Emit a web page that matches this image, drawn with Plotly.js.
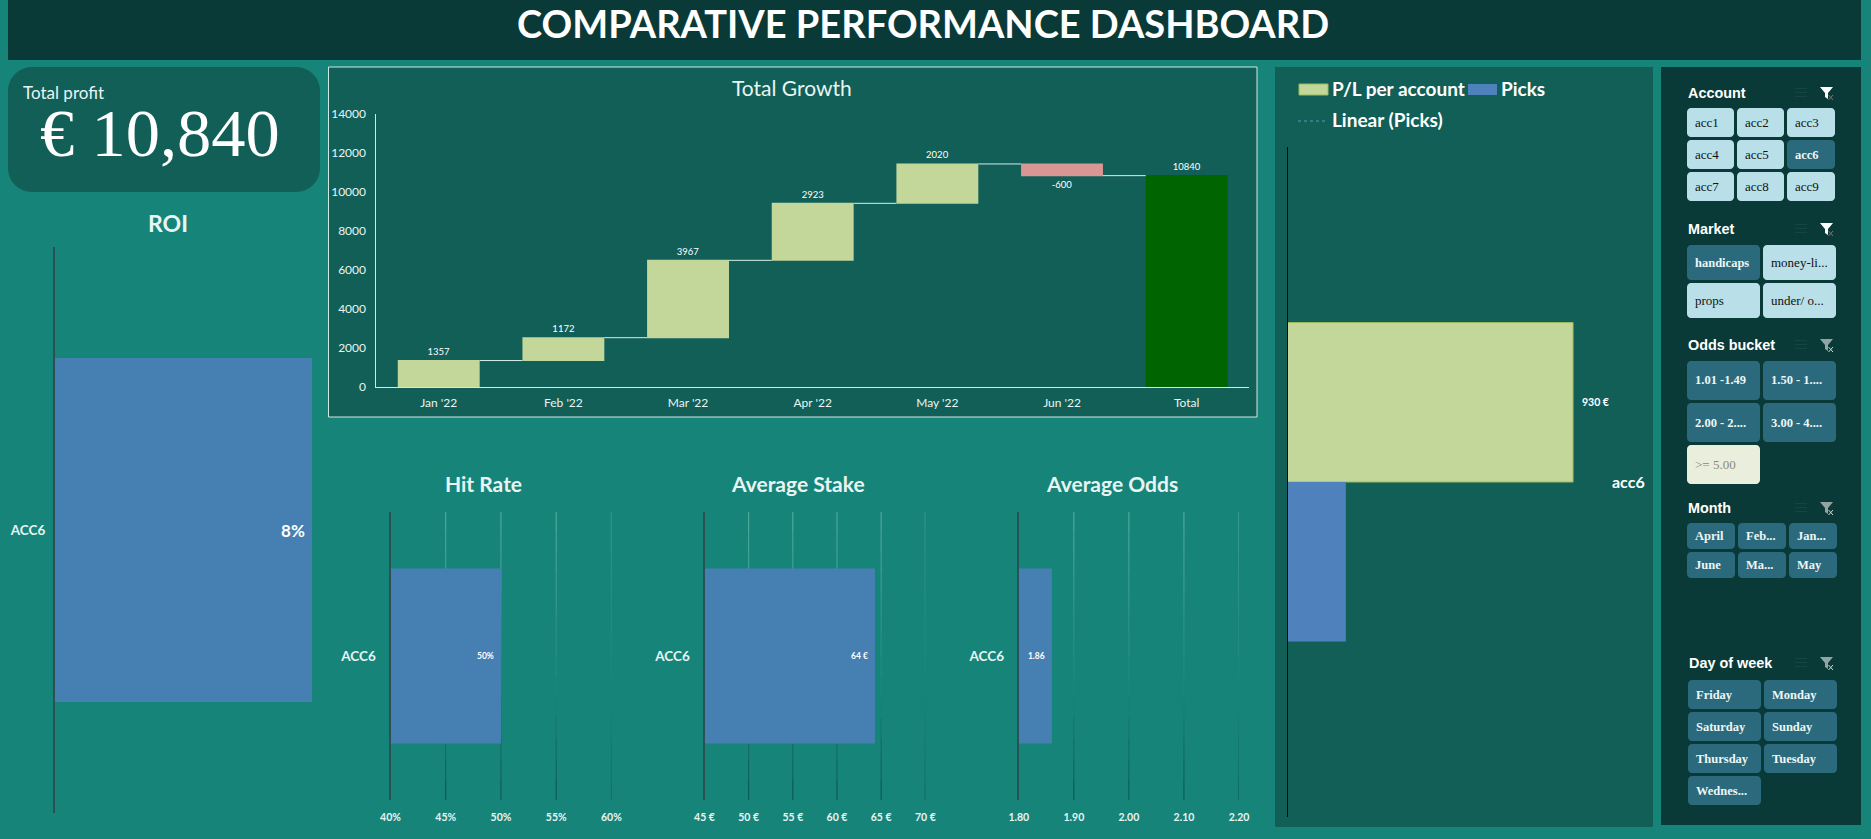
<!DOCTYPE html>
<html>
<head>
<meta charset="utf-8">
<script src="https://cdn.plot.ly/plotly-3.0.1.min.js"></script>
<style>html,body{margin:0;padding:0;background:#17847a;overflow:hidden}#chart{width:1871px;height:839px}</style>
</head>
<body>
<div id="chart"></div>
<script>
// ---- data ----
const months = ["Jan '22", "Feb '22", "Mar '22", "Apr '22", "May '22", "Jun '22", "Total"];
const growth = [1357, 1172, 3967, 2923, 2020, -600, 10840];
const growthMeasure = ["relative", "relative", "relative", "relative", "relative", "relative", "absolute"];
const growthTicks = [0, 2000, 4000, 6000, 8000, 10000, 12000, 14000];
const account = ["ACC6"];
const roi = [0.08];
const hitRate = [0.50];
const hitTicks = [0.40, 0.45, 0.50, 0.55, 0.60];
const avgStake = [64.3];
const stakeTicks = [45, 50, 55, 60, 65, 70];
const avgOdds = [1.86];
const oddsTicks = [1.80, 1.90, 2.00, 2.10, 2.20];
const plCategory = ["acc6"];
const plValues = [930];
const picksValues = [190];

const slicers = [
  {title: "Account", tx: 1687, ty: 93, icon: "#ffffff", xs: [[1687,1734],[1737,1784],[1787,1835]], ys: [[108,137],[140,169],[172,201]],
   items: [["acc1",0],["acc2",0],["acc3",0],["acc4",0],["acc5",0],["acc6",1],["acc7",0],["acc8",0],["acc9",0]]},
  {title: "Market", tx: 1687, ty: 229, icon: "#ffffff", xs: [[1687,1760],[1763,1836]], ys: [[245,280],[283,318]],
   items: [["handicaps",1],["money-li...",0],["props",0],["under/ o...",0]]},
  {title: "Odds bucket", tx: 1687, ty: 345, icon: "#93a5a2", xs: [[1687,1760],[1763,1836]], ys: [[361,400],[403,442],[445,484]],
   items: [["1.01 -1.49",1],["1.50 - 1....",1],["2.00 - 2....",1],["3.00 - 4....",1],[">= 5.00",2]]},
  {title: "Month", tx: 1687, ty: 508, icon: "#93a5a2", xs: [[1687,1735],[1738,1786],[1789,1837]], ys: [[523,549],[552,578]],
   items: [["April",1],["Feb...",1],["Jan...",1],["June",1],["Ma...",1],["May",1]]},
  {title: "Day of week", tx: 1688, ty: 663, icon: "#93a5a2", xs: [[1688,1761],[1764,1837]], ys: [[680,709],[712,741],[744,773],[776,805]],
   items: [["Friday",1],["Monday",1],["Saturday",1],["Sunday",1],["Thursday",1],["Tuesday",1],["Wednes...",1]]}
];

// ---- helpers ----
const W = 1871, H = 839;
const X = p => p / W, Y = p => 1 - p / H;
const BG = "#17847a", DARK = "#0a3a38", PANEL = "#125f58", WHITE = "#ffffff", SOFT = "#e8f5f2";
const BLUE = "#4680b3";
const SANS = "Lato, Carlito, sans-serif";
const shapes = [], annotations = [];

function rect(x0, y0, x1, y1, fill, line) {
  shapes.push({type: "rect", xref: "paper", yref: "paper", x0: X(x0), x1: X(x1), y0: Y(y1), y1: Y(y0),
    fillcolor: fill, line: line ? {color: line, width: 1} : {width: 0}, layer: "below"});
}
function round(x0, y0, x1, y1, r, fill) {
  const k = r * 0.45;
  const pt = (x, y) => X(x) + "," + Y(y);
  const path = "M" + pt(x0 + r, y0) + "L" + pt(x1 - r, y0) + "C" + pt(x1 - k, y0) + " " + pt(x1, y0 + k) + " " + pt(x1, y0 + r) +
    "L" + pt(x1, y1 - r) + "C" + pt(x1, y1 - k) + " " + pt(x1 - k, y1) + " " + pt(x1 - r, y1) +
    "L" + pt(x0 + r, y1) + "C" + pt(x0 + k, y1) + " " + pt(x0, y1 - k) + " " + pt(x0, y1 - r) +
    "L" + pt(x0, y0 + r) + "C" + pt(x0, y0 + k) + " " + pt(x0 + k, y0) + " " + pt(x0 + r, y0) + "Z";
  shapes.push({type: "path", xref: "paper", yref: "paper", path, fillcolor: fill, line: {width: 0}, layer: "below"});
}
function poly(points, fill) {
  const path = "M" + points.map(p => X(p[0]) + "," + Y(p[1])).join("L") + "Z";
  shapes.push({type: "path", xref: "paper", yref: "paper", path, fillcolor: fill, line: {width: 0}, layer: "above"});
}
function seg(x0, y0, x1, y1, color, width, dash) {
  shapes.push({type: "line", xref: "paper", yref: "paper", x0: X(x0), x1: X(x1), y0: Y(y0), y1: Y(y1),
    line: {color, width, dash: dash || "solid"}, layer: "above"});
}
function label(text, x, y, size, opt) {
  opt = opt || {};
  annotations.push({text, xref: "paper", yref: "paper", x: X(x), y: Y(y), showarrow: false,
    xanchor: opt.anchor || "center", yanchor: "middle", align: "left", borderpad: 0,
    font: {family: opt.family || SANS, size, color: opt.color || WHITE, weight: opt.weight || 400}});
}
function mix(a, b, t) {
  const ch = (c, i) => parseInt(c.substr(1 + 2 * i, 2), 16);
  return "rgb(" + [0, 1, 2].map(i => Math.round(ch(a, i) + (ch(b, i) - ch(a, i)) * t)).join(",") + ")";
}
// fading gridlines: light at the top, through the background colour, dark at the bottom
function grid(axisId, ticks) {
  const n = 14;
  ticks.slice(1).forEach(t => {
    for (let i = 0; i < n; i++) {
      const f = (i + 0.5) / n;
      const color = f > 0.35 ? mix(BG, "#5cb0a4", (f - 0.35) / 0.65) : mix("#0c4f4b", BG, f / 0.35);
      shapes.push({type: "line", xref: axisId, yref: axisId.replace("x", "y") + " domain", x0: t, x1: t,
        y0: i / n, y1: (i + 1) / n, line: {color, width: 1}, layer: "below"});
    }
  });
}

// ---- frame ----
rect(8, 0, 1861, 60, DARK);
round(8, 67, 320, 192, 24, PANEL);
rect(328.5, 67, 1257, 417, PANEL, "#cfe9e3");
rect(1275, 67, 1653, 827, PANEL);
rect(1661, 67, 1861, 825, DARK);

label("COMPARATIVE PERFORMANCE DASHBOARD", 923, 22.8, 38, {weight: 700});
label("Total profit", 22, 92, 17, {anchor: "left", color: SOFT});
label("€ 10,840", 160, 133, 68.5, {family: "Liberation Serif, serif"});
label("ROI", 168, 223, 23, {weight: 700, color: SOFT});
label("Total Growth", 791.5, 87, 21, {color: SOFT});
label("Hit Rate", 483.5, 483, 21, {weight: 700, color: SOFT});
label("Average Stake", 797.5, 483, 21, {weight: 700, color: SOFT});
label("Average Odds", 1112, 483, 21, {weight: 700, color: SOFT});

// P/L legend
rect(1299, 84, 1328, 95, "#c4d79b", "#9bbb59");
label("P/L per account", 1331, 88, 19, {anchor: "left", weight: 700});
rect(1468, 84, 1497, 95, "#4f81bd");
label("Picks", 1500, 88, 19, {anchor: "left", weight: 700});
seg(1298, 121, 1328, 121, "#4f9fb5", 1, "dot");
label("Linear (Picks)", 1331, 119, 19, {anchor: "left", weight: 700});
label(plCategory[0], 1628, 481, 16, {weight: 700});
annotations.push({text: plValues[0] + " €", xref: "x6", yref: "paper", x: plValues[0], y: Y(402), xanchor: "left", yanchor: "middle",
  xshift: 7, showarrow: false, font: {family: SANS, size: 10.5, color: WHITE, weight: 700}});

// ---- slicers ----
slicers.forEach(s => {
  label(s.title, s.tx, s.ty, 14.4, {anchor: "left", family: "Liberation Sans, sans-serif", weight: 700});
  const ix = 1820, iy = s.ty - 6;
  poly([[ix, iy], [ix + 13, iy], [ix + 8, iy + 6], [ix + 8, iy + 12], [ix + 5, iy + 10], [ix + 5, iy + 6]], s.icon);
  seg(ix + 8.5, iy + 8, ix + 13, iy + 13, s.icon === WHITE ? "#b85c5c" : "#cdd8d6", 1);
  seg(ix + 13, iy + 8, ix + 8.5, iy + 13, s.icon === WHITE ? "#b85c5c" : "#cdd8d6", 1);
  [0, 4, 8].forEach(d => seg(1795, iy + 1.5 + d, 1807, iy + 1.5 + d, "#174543", 1));
  s.items.forEach((it, i) => {
    const col = i % s.xs.length, row = Math.floor(i / s.xs.length);
    const [x0, x1] = s.xs[col], [y0, y1] = s.ys[row];
    const fill = it[1] === 0 ? "#b9dfe8" : it[1] === 1 ? "#2a6a7c" : "#e9efdc";
    round(x0, y0, x1, y1, 4, fill);
    label(it[0], x0 + 7, (y0 + y1) / 2, it[1] === 1 ? 12.5 : 13, {
      anchor: "left", family: "Liberation Serif, serif", weight: it[1] === 1 ? 700 : 400,
      color: it[1] === 0 ? "#111111" : it[1] === 1 ? "#eef6f6" : "#8a8a80"});
  });
});

// ---- gridlines ----
grid("x3", hitTicks);
grid("x4", stakeTicks);
grid("x5", oddsTicks);

// ---- traces ----
const dark = "#2b5157";
const pad = n => "\u00a0".repeat(n);
function kpiBar(xa, ya, values, fmt, size) {
  return {type: "bar", orientation: "h", x: values, y: account, xaxis: xa, yaxis: ya, showlegend: false,
    marker: {color: BLUE}, texttemplate: fmt, textposition: "inside", insidetextanchor: "end",
    textangle: 0, constraintext: "none", cliponaxis: false,
    textfont: {family: SANS, size, color: WHITE, weight: 700}, hoverinfo: "skip"};
}
const traces = [
  {type: "waterfall", x: months, y: growth, measure: growthMeasure, xaxis: "x", yaxis: "y", name: "Total Growth", showlegend: false,
   text: growth.map(String), textposition: "outside", cliponaxis: false,
   textfont: {family: SANS, size: 9.5, color: WHITE},
   increasing: {marker: {color: "#c4d79b"}}, decreasing: {marker: {color: "#da9694"}}, totals: {marker: {color: "#006400"}},
   connector: {mode: "end", line: {color: "#d5eee8", width: 1}}},
  kpiBar("x2", "y2", roi, "%{x:.0%}" + pad(1), 17),
  kpiBar("x3", "y3", hitRate, "%{x:.0%}" + pad(2), 8.5),
  kpiBar("x4", "y4", avgStake, "%{x:.0f} €" + pad(2), 8.5),
  kpiBar("x5", "y5", avgOdds, "%{x:.2f}" + pad(2), 8.5),
  {type: "bar", orientation: "h", name: "P/L per account", x: plValues, y: plCategory, xaxis: "x6", yaxis: "y6", showlegend: false,
   width: 0.238, offset: 0, marker: {color: "#c4d79b", line: {color: "#9bbb59", width: 1}}, textposition: "none"},
  {type: "bar", orientation: "h", name: "Picks", x: picksValues, y: plCategory, xaxis: "x6", yaxis: "y6", showlegend: false,
   width: 0.238, offset: -0.238, marker: {color: "#4f81bd"}, textposition: "none"}
];

// ---- axes ----
const dx = (a, b) => [X(a), X(b)], dy = (top, bottom) => [Y(bottom), Y(top)];
function catAxis(anchor, domain, standoff) {
  return {domain, anchor, type: "category", showgrid: false, showline: true, linecolor: dark, linewidth: 2, zeroline: false,
    range: [-0.5, 0.5], ticks: "outside", ticklen: standoff, tickcolor: "rgba(0,0,0,0)",
    tickfont: {family: SANS, size: 13.5, color: SOFT, weight: 700}};
}
function valAxis(anchor, domain, range, ticks, opt) {
  return Object.assign({domain, anchor, range, tickmode: "array", tickvals: ticks, showgrid: false, zeroline: false, showline: false,
    ticks: "outside", ticklen: 7, tickcolor: "rgba(0,0,0,0)",
    tickfont: {family: SANS, size: 10.5, color: SOFT, weight: 700}}, opt || {});
}
const layout = {
  width: W, height: H, margin: {l: 0, r: 0, t: 0, b: 0}, autosize: false,
  paper_bgcolor: BG, plot_bgcolor: "rgba(0,0,0,0)", showlegend: false,
  bargap: 0.392, waterfallgap: 0.343, barmode: "overlay",
  shapes, annotations,
  xaxis: {domain: dx(376.4, 1249), anchor: "y", type: "category", showgrid: false, zeroline: false, showline: true,
    linecolor: "#cfe9e3", linewidth: 1, ticks: "outside", ticklen: 5, tickcolor: "rgba(0,0,0,0)",
    tickfont: {family: SANS, size: 12, color: SOFT}},
  yaxis: {domain: dy(114, 387), anchor: "x", range: [0, 14000], tickmode: "array", tickvals: growthTicks, tickformat: "d",
    showgrid: false, zeroline: false, showline: true,
    linecolor: "#cfe9e3", linewidth: 1, ticks: "outside", ticklen: 7, tickcolor: "rgba(0,0,0,0)",
    tickfont: {family: SANS, size: 12, color: SOFT}},
  xaxis2: {domain: dx(55, 312), anchor: "y2", range: [0, 0.08], visible: false},
  yaxis2: catAxis("x2", dy(247, 813), 5),
  xaxis3: valAxis("y3", dx(390.5, 611.4), [0.40, 0.60], hitTicks, {tickformat: ".0%"}),
  yaxis3: catAxis("x3", dy(512, 800), 10),
  xaxis4: valAxis("y4", dx(704.5, 925.3), [45, 70], stakeTicks, {ticktext: stakeTicks.map(t => t + " €")}),
  yaxis4: catAxis("x4", dy(512, 800), 10),
  xaxis5: valAxis("y5", dx(1018.8, 1239), [1.8, 2.2], oddsTicks, {tickformat: ".2f"}),
  yaxis5: catAxis("x5", dy(512, 800), 10),
  xaxis6: {domain: dx(1287.5, 1640), anchor: "y6", range: [0, 1148], visible: false},
  yaxis6: {domain: dy(147, 817), anchor: "x6", type: "category", range: [-0.5, 0.5], showgrid: false, zeroline: false, showline: true,
    linecolor: "#0a0a0a", linewidth: 1, showticklabels: false, ticks: ""}
};
Plotly.newPlot("chart", traces, layout, {staticPlot: true, displayModeBar: false});
</script>
</body>
</html>
